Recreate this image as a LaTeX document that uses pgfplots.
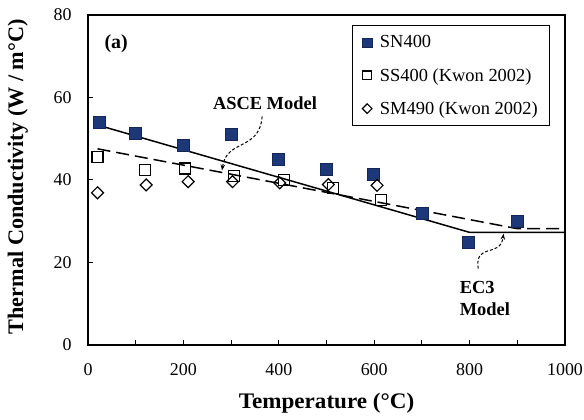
\documentclass[border=0pt]{standalone}
\usepackage{fontspec}
\setmainfont{Liberation Serif}
\usepackage{pgfplots}
\pgfplotsset{compat=1.18}
\usetikzlibrary{arrows.meta}
\definecolor{navy}{RGB}{28,56,120}
\begin{document}
\begin{tikzpicture}
\begin{axis}[
  scale only axis, width=477bp, height=330bp,
  xmin=0, xmax=1000, ymin=0, ymax=80,
  xtick={0,200,...,1000}, minor xtick={100,300,...,900},
  ytick={0,20,...,80},
  tick align=inside, tick pos=left,
  major tick length=5bp, minor tick length=5bp,
  every tick/.style={black, line width=1bp},
  axis line style={line width=1.4bp},
  /pgf/number format/assume math mode=true,
  /pgf/number format/1000 sep={},
  ticklabel style={font=\fontsize{18}{20}\selectfont},
  xticklabel style={yshift=-15bp},
  yticklabel style={xshift=-13bp},
  xlabel={\textbf{Temperature (°C)}},
  ylabel={\textbf{Thermal Conductivity (W / m°C)}},
  label style={font=\fontsize{22.3}{25}\selectfont},
  xlabel style={at={(axis description cs:0.5,-0.176)}, anchor=center, xscale=1.04},
  ylabel style={at={(axis description cs:-0.147,0.51)}, anchor=center},
  clip=false,
  legend style={at={(axis description cs:0.553,0.97)}, anchor=north west,
    draw=black, line width=1.2bp, font=\fontsize{18.5}{21}\selectfont,
    row sep=15bp, inner xsep=10bp, inner ysep=8bp,
    /tikz/every odd column/.append style={column sep=6bp}},
  legend cell align=left,
]
\addplot[only marks, mark=square*, mark size=6bp, mark options={fill=navy, draw=navy!70!black, line width=0.5bp}, legend image post style={mark size=4.6bp}]
 coordinates {(23,54.0) (100,51.4) (199,48.5) (300,51.2) (398,45.1) (499,42.5) (597,41.4) (700,32.0) (797,24.9) (899,30.1)};
\addlegendentry{SN400}
\addplot[only marks, mark=square, mark size=5.5bp, mark options={draw=black, fill=white, line width=1.2bp}, legend image post style={mark size=4.4bp}]
 coordinates {(20,45.6) (119,42.4) (203,42.8) (306,41.0) (411,40.0) (514,38.0) (614,35.2)};
\addlegendentry{SS400 (Kwon 2002)}
\addplot[only marks, mark=square, mark size=4.2bp, mark options={draw=black, fill=white, line width=1.2bp, rotate=45}, legend image post style={mark size=3.4bp}]
 coordinates {(20,36.9) (122,38.8) (210,39.6) (303,39.6) (402,39.3) (504,38.9) (606,38.7)};
\addlegendentry{SM490 (Kwon 2002)}
% EC3 model
\addplot[black, line width=1.5bp, forget plot] coordinates {(20,53.33) (800,27.3) (1000,27.3)};
% ASCE model
\addplot[black, line width=1.5bp, dash pattern=on 13bp off 6bp, forget plot] coordinates {(20,47.56) (900,28.2) (1000,28.2)};
\node[font=\fontsize{20}{22}\selectfont\bfseries] at (axis cs:59,73.1) {(a)};
\node[font=\fontsize{18.5}{20}\selectfont\bfseries] at (axis cs:371,58.7) {ASCE Model};
\draw[densely dashed, line width=1bp, -{Stealth[length=6bp]}] (axis cs:365,55.4) .. controls (axis cs:360,47) and (axis cs:290,50) .. (axis cs:281,42.3);
\node[font=\fontsize{18.5}{22}\selectfont\bfseries, align=left, anchor=west] at (axis cs:772,11.3) {EC3\\Model};
\draw[densely dashed, line width=1bp, -{Stealth[length=6bp]}] (axis cs:818,18.5) .. controls (axis cs:810,25) and (axis cs:865,21) .. (axis cs:871,27.0);
\end{axis}
\pgfresetboundingbox
\path ([xshift=-88bp,yshift=-75bp]current axis.south west) rectangle ([xshift=19bp,yshift=15bp]current axis.north east);
\end{tikzpicture}
\end{document}
